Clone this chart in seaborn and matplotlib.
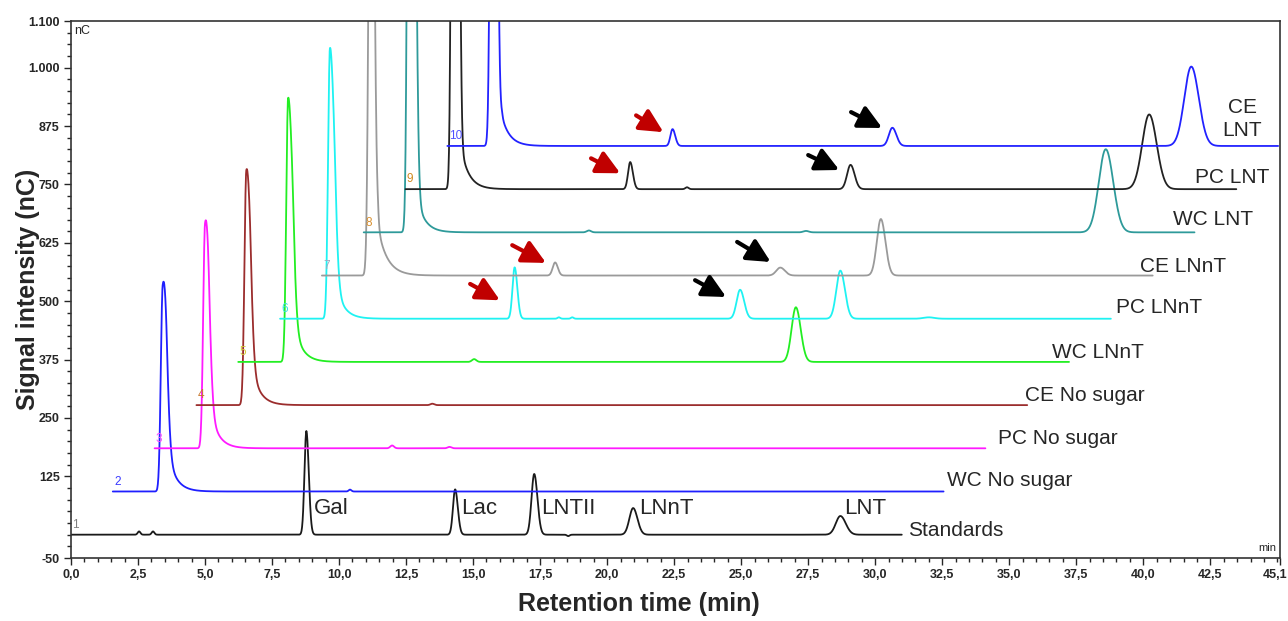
import numpy as np
import pandas as pd
import seaborn as sns
import matplotlib.pyplot as plt
from matplotlib.ticker import FixedLocator, MultipleLocator, FuncFormatter

# stacked HPAEC-PAD chromatograms, listed bottom to top
names = ['Standards', 'WC No sugar', 'PC No sugar', 'CE No sugar', 'WC LNnT',
         'PC LNnT', 'CE LNnT', 'WC LNT', 'PC LNT', 'CE\nLNT']
colors = ['#1a1a1a', '#1f1fff', '#ff1aff', '#9b2d2d', '#22ee22',
          '#1ff2f2', '#9a9a9a', '#2e9a9a', '#222222', '#2222ff']
num_colors = ['#808080', '#3a3aff', '#ff4aff', '#c8782d', '#d2cc3c',
              '#3ae0e0', '#a0a8c0', '#d89030', '#d08a20', '#5050ff']

run_end = 31.0   # min, length of each run
shift_t = 1.56   # min, stacking offset per trace
shift_y = 92.5   # nC, stacking offset per trace

# peaks: (retention time min, height nC, left width, right width)
peaks = [
    [(2.54, 7, 0.05, 0.05), (3.06, 7, 0.05, 0.05), (8.78, 222, 0.07, 0.09),
     (14.33, 97, 0.08, 0.10), (17.28, 130, 0.10, 0.12), (18.55, -3, 0.05, 0.05),
     (20.97, 57, 0.14, 0.16), (28.70, 40, 0.17, 0.20)],
    [(1.86, 420, 0.07, 0.14), (8.85, 4, 0.05, 0.05)],
    [(1.88, 460, 0.07, 0.14), (8.86, 6, 0.07, 0.07), (11.0, 3, 0.07, 0.07)],
    [(1.86, 490, 0.07, 0.14), (8.80, 3, 0.07, 0.07)],
    [(1.86, 560, 0.07, 0.15), (8.80, 6, 0.08, 0.08), (20.80, 117, 0.16, 0.18)],
    [(1.86, 575, 0.07, 0.15), (8.75, 110, 0.08, 0.10), (10.4, 3, 0.05, 0.05),
     (10.9, 3, 0.05, 0.05), (17.16, 62, 0.13, 0.15), (20.90, 103, 0.15, 0.17),
     (24.2, 3, 0.2, 0.2)],
    [(1.84, 1500, 0.08, 0.10), (8.70, 28, 0.09, 0.10), (17.10, 17, 0.15, 0.17),
     (20.85, 121, 0.15, 0.17)],
    [(1.75, 3000, 0.08, 0.12), (8.40, 4, 0.08, 0.08), (16.5, 3, 0.1, 0.1),
     (27.68, 178, 0.26, 0.28)],
    [(1.85, 5000, 0.08, 0.09), (8.38, 58, 0.08, 0.10), (10.5, 4, 0.06, 0.06),
     (16.60, 52, 0.13, 0.15), (27.74, 160, 0.26, 0.28)],
    [(1.72, 2500, 0.08, 0.10), (8.40, 36, 0.08, 0.10), (16.60, 39, 0.13, 0.15),
     (27.75, 170, 0.26, 0.28)],
]
# tailing of the injection peak: (start min, height nC, decay min)
tails = [None, (2.00, 100, 0.30), (2.02, 100, 0.30), (2.02, 95, 0.30),
         (2.05, 90, 0.30), (2.05, 80, 0.30), (2.10, 100, 0.35),
         (2.00, 70, 0.30), (2.10, 80, 0.30), (2.05, 60, 0.30)]

label_x = [33.0, 35.0, 36.8, 37.8, 38.3, 40.6, 41.5, 42.6, 43.3, 43.7]
label_y = [10, 117, 207, 299, 391, 487, 575, 676, 766, 890]

std_names = ['Gal', 'Lac', 'LNTII', 'LNnT', 'LNT']
std_x = [9.05, 14.55, 17.55, 21.2, 28.85]
std_y = [57, 57, 57, 57, 57]

# arrows: (tail x, tail y, head x, head y)
red_arrows = [(21.08, 898, 22.10, 862), (19.40, 806, 20.49, 774),
              (16.46, 620, 17.72, 582), (14.89, 537, 16.00, 502)]
black_arrows = [(29.10, 905, 30.26, 871), (27.50, 813, 28.66, 781),
                (24.85, 627, 26.10, 584), (23.28, 545, 24.44, 509)]

y_major = [-50, 125, 250, 375, 500, 625, 750, 875, 1000, 1100]
x_major = [0, 2.5, 5, 7.5, 10, 12.5, 15, 17.5, 20, 22.5, 25, 27.5, 30,
           32.5, 35, 37.5, 40, 42.5]


def trace(t, pk, tail):
    y = np.zeros_like(t)
    for t0, h, sl, sr in pk:
        s = np.where(t < t0, sl, sr)
        y += h * np.exp(-0.5 * ((t - t0) / s) ** 2)
    if tail is not None:
        t0, h, tau = tail
        y += np.where(t < t0, h * np.exp(-0.5 * ((t - t0) / 0.08) ** 2),
                      h * np.exp(-(t - t0) / tau))
    return y


t = np.arange(0, run_end, 0.01)
frames = []
for i, name in enumerate(names):
    frames.append(pd.DataFrame({
        'time': t + i * shift_t,
        'signal': trace(t, peaks[i], tails[i]) + i * shift_y,
        'trace': name,
    }))
df = pd.concat(frames, ignore_index=True)

sns.set_style('white')
plt.rcParams['font.family'] = ['Liberation Sans', 'DejaVu Sans']

fig = plt.figure(figsize=(12.88, 6.21), dpi=100)
ax = fig.add_axes([0.0551, 0.1014, 0.9387, 0.8647])

sns.lineplot(data=df, x='time', y='signal', hue='trace', hue_order=names,
             palette=dict(zip(names, colors)), estimator=None, sort=False,
             legend=False, linewidth=1.3, ax=ax)

ax.set_xlim(0, 45.1)
ax.set_ylim(-50, 1100)

for i in range(len(names)):
    ax.text(i * shift_t + 0.05, i * shift_y + 8, str(i + 1), color=num_colors[i],
            fontsize=8.5, ha='left', va='bottom')
    ax.text(label_x[i], label_y[i], names[i], fontsize=15, ha='center',
            va='center', multialignment='center', linespacing=1.3)

for s, x, y in zip(std_names, std_x, std_y):
    ax.text(x, y, s, fontsize=16, ha='left', va='center')

for arrows, c in [(red_arrows, '#c00000'), (black_arrows, 'black')]:
    for x0, y0, x1, y1 in arrows:
        ax.annotate('', xy=(x1, y1), xytext=(x0, y0),
                    arrowprops=dict(arrowstyle='-|>,head_length=0.7,head_width=0.35',
                                    color=c, lw=3, mutation_scale=20,
                                    shrinkA=0, shrinkB=0))

ax.text(0.003, 0.993, 'nC', transform=ax.transAxes, fontsize=9, ha='left', va='top')
ax.text(0.997, 0.01, 'min', transform=ax.transAxes, fontsize=8, ha='right', va='bottom')

# axis ticks in the instrument style
ax.yaxis.set_major_locator(FixedLocator(y_major))
ax.yaxis.set_minor_locator(MultipleLocator(25))
ax.yaxis.set_major_formatter(FuncFormatter(
    lambda v, p: f'{v / 1000:.3f}' if v >= 1000 else f'{v:.0f}'))
ax.xaxis.set_major_locator(FixedLocator(x_major + [45.1]))
ax.xaxis.set_minor_locator(MultipleLocator(0.5))
ax.xaxis.set_major_formatter(FuncFormatter(
    lambda v, p: '' if v > 45 else f'{v:.1f}'.replace('.', ',')))
ax.tick_params(which='major', direction='out', length=5, width=1, labelsize=9,
               left=True, bottom=True, pad=3)
ax.tick_params(which='minor', direction='out', length=3, width=1, left=True, bottom=True)
for lab in ax.get_xticklabels() + ax.get_yticklabels():
    lab.set_fontweight('bold')
# last tick label sits at the figure edge
fig.text(0.9992, 0.0845, '45,1', ha='right', va='top', fontsize=9, fontweight='bold')
for sp in ax.spines.values():
    sp.set_color('#333333')
    sp.set_linewidth(1.2)

ax.set_xlabel('Retention time (min)', fontsize=18, fontweight='bold')
ax.set_ylabel('Signal intensity (nC)', fontsize=18, fontweight='bold')
ax.xaxis.set_label_coords(0.47, -0.063)
ax.yaxis.set_label_coords(-0.026, 0.5)

fig.savefig('out.png', dpi=100)
